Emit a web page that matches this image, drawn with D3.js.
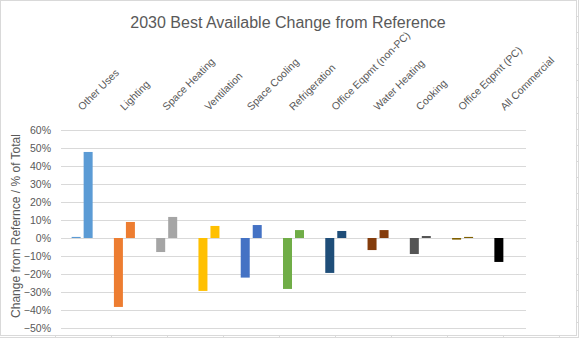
<!DOCTYPE html>
<html><head><meta charset="utf-8">
<script src="https://cdn.jsdelivr.net/npm/d3@7"></script>
<style>body{margin:0;background:#fff}svg{display:block}text{font-family:"Liberation Sans",Arial,sans-serif}</style>
</head><body>
<svg id="c" width="579" height="338"></svg>
<script>
const categories = ["Other Uses","Lighting","Space Heating","Ventilation","Space Cooling","Refrigeration","Office Eqpmt (non-PC)","Water Heating","Cooking","Office Eqpmt (PC)","All Commercial"];
const seriesA = [0.006,-0.383,-0.078,-0.294,-0.22,-0.283,-0.194,-0.067,-0.089,-0.009,-0.133];
const seriesB = [0.478,0.089,0.117,0.067,0.072,0.044,0.039,0.044,0.011,0.006,0];
const colors = ["#5B9BD5","#ED7D31","#A5A5A5","#FFC000","#4472C4","#70AD47","#1F4E79","#843C0C","#555555","#806000","#000000"];
const yTicks = [0.6,0.5,0.4,0.3,0.2,0.1,0,-0.1,-0.2,-0.3,-0.4,-0.5];
const title = "2030 Best Available Change from Reference";
const yTitle = "Change from Refernce / % of Total";

const svg = d3.select("#c");
// spreadsheet cell grid outside chart
const g0 = svg.append("g").attr("stroke","#dadada").attr("stroke-width",1);
g0.append("line").attr("x1",578.5).attr("x2",578.5).attr("y1",0).attr("y2",338);
d3.range(16,338,16.1).forEach(y=>g0.append("line").attr("x1",577).attr("x2",579).attr("y1",Math.round(y)+0.5).attr("y2",Math.round(y)+0.5));
g0.append("line").attr("x1",0).attr("x2",579).attr("y1",337.5).attr("y2",337.5);
d3.range(55,579,56).forEach(x=>g0.append("line").attr("x1",Math.round(x)+0.5).attr("x2",Math.round(x)+0.5).attr("y1",336).attr("y2",338));
// chart frame
svg.append("rect").attr("x",0.5).attr("y",0.5).attr("width",576).attr("height",335).attr("fill","#fff").attr("stroke","#d9d9d9");

const x = d3.scaleBand().domain(categories).range([61,526]);
const xs = d3.scaleBand().domain(["a","b"]).range([-10.5,10.5]).paddingInner(0.25);
const y = d3.scaleLinear().domain([-0.5,0.6]).range([328,130]);

svg.append("text").attr("x",288).attr("y",28).attr("text-anchor","middle").attr("font-size",16).attr("fill","#595959").text(title);

const yAxis = d3.axisLeft(y).tickValues(yTicks).tickFormat(d3.format(".0%")).tickSize(-(526-61)).tickPadding(10);
const ga = svg.append("g").attr("transform","translate(61,0)").call(yAxis);
ga.select(".domain").remove();
ga.selectAll(".tick line").attr("stroke","#d9d9d9").attr("stroke-width",1);
ga.selectAll(".tick text").attr("fill","#595959").attr("font-size",10.5).attr("font-family","Liberation Sans, Arial, sans-serif");

svg.append("text").attr("transform","translate(20,226) rotate(-90)").attr("text-anchor","middle").attr("font-size",12).attr("fill","#595959").text(yTitle);

const bars = svg.append("g");
categories.forEach((c,i)=>{
  [["a",seriesA[i]],["b",seriesB[i]]].forEach(([k,v])=>{
    if(v===0) return;
    const cx = x(c)+x.bandwidth()/2;
    bars.append("rect").attr("x",cx+xs(k)).attr("width",xs.bandwidth())
      .attr("y",y(Math.max(0,v))).attr("height",Math.abs(y(v)-y(0))).attr("fill",colors[i]);
  });
});

svg.append("g").selectAll("text").data(categories).join("text")
  .attr("transform",d=>`translate(${x(d)+x.bandwidth()/2},111) rotate(-45)`)
  .attr("font-size",10.5).attr("fill","#595959").text(d=>d);
</script>
</body></html>
